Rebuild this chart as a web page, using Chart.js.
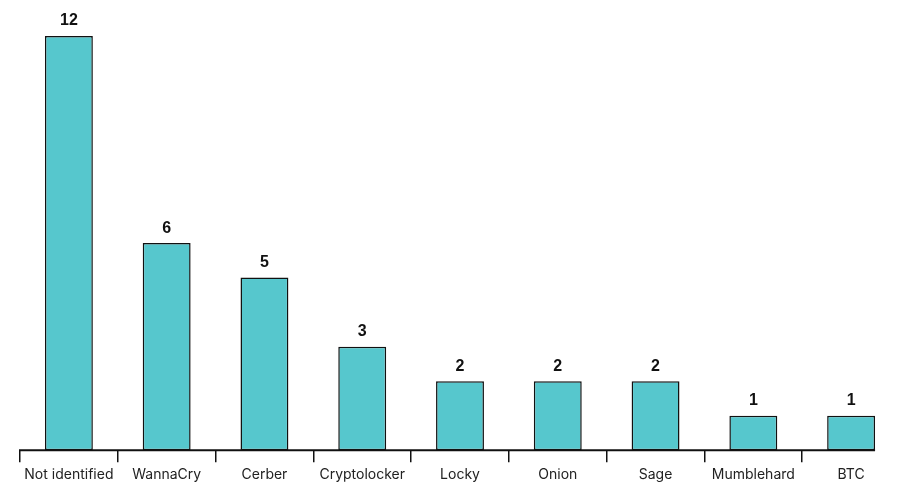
<!DOCTYPE html>
<html lang="en">
<head>
  <meta charset="UTF-8">
  <title>Ransomware families</title>
  <style>
    body {
      margin: 0;
      background: #ffffff;
    }

    .wrap {
      width: 900px;
      height: 501px;
    }
  </style>
</head>
<body>
  <div class="wrap">
    <canvas id="famChart"></canvas>
  </div>

  <script src="https://cdn.jsdelivr.net/npm/chart.js"></script>
  <script>
    const families = ['Not identified', 'WannaCry', 'Cerber', 'Cryptolocker', 'Locky', 'Onion', 'Sage', 'Mumblehard', 'BTC'];
    const counts = [12, 6, 5, 3, 2, 2, 2, 1, 1];

    // numbers above the bars + baseline that stops at the last bar
    const valueLabels = {
      id: 'valueLabels',
      afterDatasetsDraw(chart) {
        const ctx = chart.ctx;
        const meta = chart.getDatasetMeta(0);
        const area = chart.chartArea;
        const last = meta.data[meta.data.length - 1];
        ctx.save();
        ctx.strokeStyle = '#111';
        ctx.lineWidth = 2;
        ctx.beginPath();
        ctx.moveTo(area.left - 1, area.bottom);
        ctx.lineTo(last.x + last.width / 2, area.bottom);
        ctx.stroke();

        ctx.font = 'bold 16px "Liberation Sans", Arial, sans-serif';
        ctx.fillStyle = '#111';
        ctx.textAlign = 'center';
        ctx.textBaseline = 'bottom';
        meta.data.forEach((bar, i) => {
          ctx.fillText(counts[i], bar.x, bar.y - 7);
        });
        ctx.restore();
      }
    };

    new Chart(document.getElementById('famChart'), {
      type: 'bar',
      data: {
        labels: families,
        datasets: [{
          data: counts,
          backgroundColor: '#56c7cd',
          borderColor: '#111',
          borderWidth: 1.5,
          borderSkipped: false,
          barPercentage: 0.49,
          categoryPercentage: 1
        }]
      },
      options: {
        responsive: true,
        maintainAspectRatio: false,
        animation: false,
        layout: {
          padding: { top: 36, left: 20, right: -4, bottom: 14 }
        },
        plugins: {
          legend: { display: false },
          tooltip: { enabled: false }
        },
        scales: {
          x: {
            offset: true,
            grid: {
              offset: true,
              drawOnChartArea: false,
              drawTicks: true,
              tickLength: 12,
              lineWidth: 1.5,
              color: c => c.tick ? '#111' : 'rgba(0,0,0,0)'
            },
            border: { display: false },
            ticks: {
              color: '#222',
              padding: 4,
              font: { family: 'Inter', size: 14 }
            }
          },
          y: {
            display: false,
            min: 0,
            max: 12
          }
        }
      },
      plugins: [valueLabels]
    });
  </script>
</body>
</html>
